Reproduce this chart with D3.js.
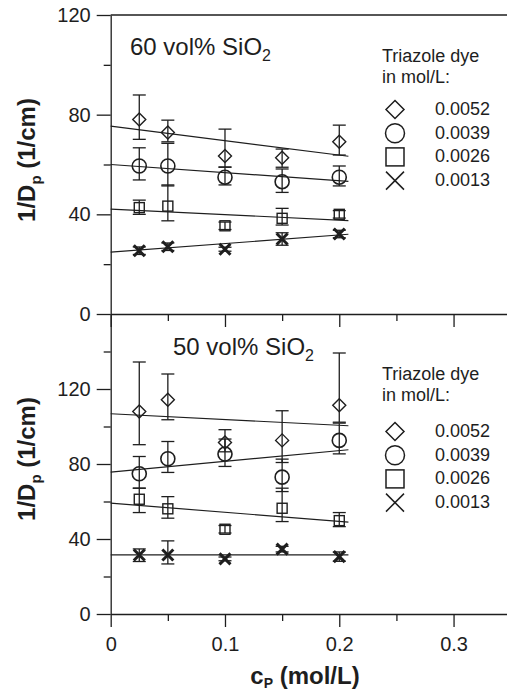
<!DOCTYPE html>
<html>
<head>
<meta charset="utf-8">
<script src="https://cdn.jsdelivr.net/npm/d3@7"></script>
<style>
  html, body { margin: 0; padding: 0; background: #fff; }
  svg { display: block; font-family: "Liberation Sans", Arial, Helvetica, sans-serif; }
</style>
</head>
<body>
<svg id="chart" width="507" height="695"></svg>
<script>
// Photopolymer penetration depth vs. photoinitiator concentration
const cp = [0.025, 0.05, 0.1, 0.15, 0.2];            // c_P (mol/L)
const dyeLabels = ["0.0052", "0.0039", "0.0026", "0.0013"];
const symbols = ["diamond", "circle", "square", "cross"];

// 60 vol% SiO2 : 1/Dp (1/cm), upper and lower error
const s60_0052 = [78.1, 72.8, 63.4, 62.7, 69.1];
const s60_0052_up = [9.8, 5.0, 10.8, 3.5, 6.7];
const s60_0052_dn = [8.0, 3.7, 4.4, 3.8, 5.3];
const s60_0039 = [59.4, 59.4, 54.9, 53.1, 54.9];
const s60_0039_up = [7.3, 9.1, 4.0, 5.1, 4.5];
const s60_0039_dn = [5.6, 8.0, 3.1, 4.3, 3.5];
const s60_0026 = [42.7, 43.3, 35.4, 38.4, 40.0];
const s60_0026_up = [3.0, 8.5, 1.5, 4.0, 1.5];
const s60_0026_dn = [2.7, 5.9, 1.5, 2.7, 1.5];
const s60_0013 = [25.4, 27.0, 26.0, 30.1, 32.1];
const s60_0013_up = [1.5, 1.5, 0.8, 2.5, 1.5];
const s60_0013_dn = [1.5, 1.5, 0.8, 2.5, 1.5];

// 50 vol% SiO2
const s50_0052 = [108.0, 114.3, 91.5, 92.6, 111.3];
const s50_0052_up = [26.4, 13.7, 6.8, 15.8, 27.9];
const s50_0052_dn = [17.7, 10.7, 5.0, 11.8, 9.0];
const s50_0039 = [74.8, 82.8, 85.3, 73.0, 92.6];
const s50_0039_up = [9.2, 9.2, 8.0, 9.6, 9.2];
const s50_0039_dn = [7.7, 7.3, 6.6, 7.7, 7.2];
const s50_0026 = [61.2, 56.1, 45.2, 56.4, 49.8];
const s50_0026_up = [5.9, 6.5, 2.0, 10.7, 4.3];
const s50_0026_dn = [7.1, 5.0, 2.0, 7.1, 3.2];
const s50_0013 = [31.5, 31.5, 29.4, 34.6, 30.6];
const s50_0013_up = [3.2, 7.5, 1.0, 1.5, 2.5];
const s50_0013_dn = [3.5, 4.8, 1.0, 1.5, 2.5];

// Linear fits: value at c_P = 0 and at c_P = fitEnd
const fitEnd = 0.208;
const fit60_start = [75.4, 60.0, 42.1, 24.8];
const fit60_end = [63.3, 53.2, 37.5, 32.0];
const fit50_start = [106.8, 75.7, 59.1, 31.5];
const fit50_end = [100.4, 87.6, 49.0, 31.5];

const xTicks = [0, 0.1, 0.2, 0.3];
const xMinor = [0.05, 0.15, 0.25];

const panels = [
  {
    title: "60 vol% SiO", yMax: 120, yTicks: [0, 40, 80, 120], yMinor: [20, 60, 100],
    series: [
      [s60_0052, s60_0052_up, s60_0052_dn],
      [s60_0039, s60_0039_up, s60_0039_dn],
      [s60_0026, s60_0026_up, s60_0026_dn],
      [s60_0013, s60_0013_up, s60_0013_dn]
    ],
    fitStart: fit60_start, fitStop: fit60_end
  },
  {
    title: "50 vol% SiO", yMax: 160, yTicks: [0, 40, 80, 120], yMinor: [20, 60, 100, 140],
    series: [
      [s50_0052, s50_0052_up, s50_0052_dn],
      [s50_0039, s50_0039_up, s50_0039_dn],
      [s50_0026, s50_0026_up, s50_0026_dn],
      [s50_0013, s50_0013_up, s50_0013_dn]
    ],
    fitStart: fit50_start, fitStop: fit50_end
  }
];

const svg = d3.select("#chart");
const ink = "#1e1e1e";
const x = d3.scaleLinear().domain([0, 0.35]).range([110.7, 510.7]);
const panelBox = [{ top: 15, bottom: 314 }, { top: 314, bottom: 614 }];

function drawSymbol(g, type, cx, cy, s, sw) {
  if (type === "diamond") {
    g.append("path")
      .attr("d", `M${cx},${cy - s}L${cx + s},${cy}L${cx},${cy + s}L${cx - s},${cy}Z`)
      .attr("fill", "none").attr("stroke", ink).attr("stroke-width", sw);
  } else if (type === "circle") {
    g.append("circle").attr("cx", cx).attr("cy", cy).attr("r", s)
      .attr("fill", "none").attr("stroke", ink).attr("stroke-width", sw);
  } else if (type === "square") {
    g.append("rect").attr("x", cx - s).attr("y", cy - s).attr("width", 2 * s).attr("height", 2 * s)
      .attr("fill", "none").attr("stroke", ink).attr("stroke-width", sw);
  } else {
    g.append("path")
      .attr("d", `M${cx - s},${cy - s}L${cx + s},${cy + s}M${cx - s},${cy + s}L${cx + s},${cy - s}`)
      .attr("fill", "none").attr("stroke", ink).attr("stroke-width", sw);
  }
}

const markerSize = { diamond: 6.5, circle: 7, square: 5, cross: 5.5 };
const markerStroke = { diamond: 1.4, circle: 1.6, square: 1.4, cross: 3 };

panels.forEach((p, pi) => {
  const box = panelBox[pi];
  const y = d3.scaleLinear().domain([0, p.yMax]).range([box.bottom, box.top]);
  const g = svg.append("g");

  // left axis, major + minor ticks
  const yAxis = g.append("g").attr("transform", `translate(${x(0)},0)`)
    .call(d3.axisLeft(y).tickValues(p.yTicks).tickSize(14).tickSizeOuter(0).tickPadding(6).tickFormat(d3.format("d")));
  yAxis.selectAll("text").attr("font-size", 20).attr("fill", ink)
    .attr("font-family", "'Liberation Sans', Arial, sans-serif");
  g.append("g").attr("transform", `translate(${x(0)},0)`)
    .call(d3.axisLeft(y).tickValues(p.yMinor).tickSize(7).tickFormat(""))
    .select(".domain").remove();

  // bottom axis of the panel
  const xAxis = g.append("g").attr("transform", `translate(0,${box.bottom})`)
    .call(d3.axisBottom(x).tickValues(xTicks).tickSize(13).tickSizeOuter(0).tickPadding(10)
      .tickFormat(pi === 1 ? (d => d === 0 ? "0" : d3.format(".1f")(d)) : ""));
  xAxis.selectAll("text").attr("font-size", 20).attr("fill", ink)
    .attr("font-family", "'Liberation Sans', Arial, sans-serif");
  g.append("g").attr("transform", `translate(0,${box.bottom})`)
    .call(d3.axisBottom(x).tickValues(xMinor).tickSize(7).tickFormat(""))
    .select(".domain").remove();

  g.selectAll(".domain, .tick line").attr("stroke", ink).attr("stroke-width", 1.3);

  // top frame line of the upper panel
  if (pi === 0) {
    g.append("line").attr("x1", x(0)).attr("x2", 507).attr("y1", y(p.yMax)).attr("y2", y(p.yMax))
      .attr("stroke", ink).attr("stroke-width", 1.3);
  }

  // fit lines
  p.fitStart.forEach((v0, i) => {
    g.append("line")
      .attr("x1", x(0)).attr("y1", y(v0))
      .attr("x2", x(fitEnd)).attr("y2", y(p.fitStop[i]))
      .attr("stroke", ink).attr("stroke-width", 1.2);
  });

  // error bars and markers
  p.series.forEach(([vals, up, dn], si) => {
    const sym = symbols[si];
    vals.forEach((v, k) => {
      const cx = x(cp[k]);
      const yt = y(v + up[k]), yb = y(v - dn[k]);
      g.append("line").attr("x1", cx).attr("x2", cx).attr("y1", yt).attr("y2", yb)
        .attr("stroke", ink).attr("stroke-width", 1.3);
      [yt, yb].forEach(yy => g.append("line")
        .attr("x1", cx - 6.5).attr("x2", cx + 6.5).attr("y1", yy).attr("y2", yy)
        .attr("stroke", ink).attr("stroke-width", 1.3));
      drawSymbol(g, sym, cx, y(v), markerSize[sym], markerStroke[sym]);
    });
  });

  // panel title
  const titleY = pi === 0 ? 55 : 355;
  const titleX = pi === 0 ? 130 : 173;
  const t = g.append("text").attr("x", titleX).attr("y", titleY)
    .attr("font-size", 24).attr("fill", ink);
  t.append("tspan").text(p.title);
  t.append("tspan").attr("dy", 6).attr("font-size", 16).text("2");

  // legend
  const ly = pi === 0 ? 62 : 380;
  const lg = g.append("g").attr("font-size", 18).attr("fill", ink);
  lg.append("text").attr("x", 382).attr("y", ly).text("Triazole dye");
  lg.append("text").attr("x", 382).attr("y", ly + 21).text("in mol/L:");
  const rowBase = pi === 0 ? 115 : 437;
  dyeLabels.forEach((lab, i) => {
    const by = rowBase + i * 23.7;
    drawSymbol(lg, symbols[i], 395, by - 5.5, symbols[i] === "circle" ? 9.5 : 9, 1.5);
    lg.append("text").attr("x", 435).attr("y", by).text(lab);
  });

  // y-axis title
  const cy = pi === 0 ? 160 : 459;
  const yl = svg.append("text")
    .attr("transform", `translate(35,${cy}) rotate(-90)`)
    .attr("text-anchor", "middle").attr("font-size", 24).attr("font-weight", "bold").attr("fill", ink);
  yl.append("tspan").text("1/D");
  yl.append("tspan").attr("dy", 6).attr("font-size", 15).text("p");
  yl.append("tspan").attr("dy", -6).text(" (1/cm)");
});

// x-axis title
const xl = svg.append("text").attr("x", 305).attr("y", 684).attr("text-anchor", "middle")
  .attr("font-size", 24).attr("font-weight", "bold").attr("fill", ink);
xl.append("tspan").text("c");
xl.append("tspan").attr("dy", 4).attr("font-size", 14).text("P");
xl.append("tspan").attr("dy", -4).text(" (mol/L)");
</script>
</body>
</html>
